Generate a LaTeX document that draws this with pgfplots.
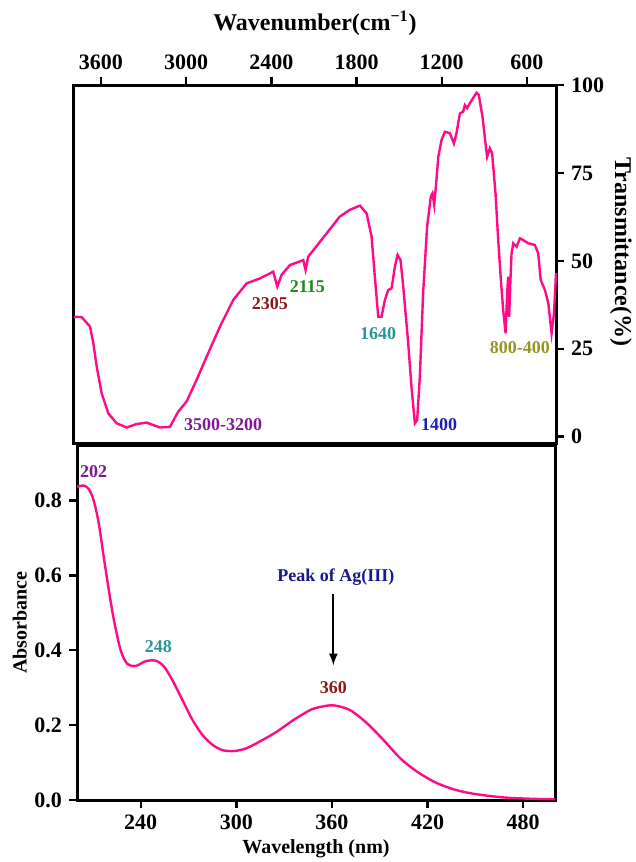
\documentclass[border=0pt]{standalone}
\usepackage{pgfplots}
\pgfplotsset{compat=1.18}
\usepackage{fontspec}
\setmainfont{Liberation Serif}
\definecolor{curve}{RGB}{255,10,135}
\definecolor{cpurple}{RGB}{125,25,145}
\definecolor{cdred}{RGB}{140,25,25}
\definecolor{cgreen}{RGB}{25,140,25}
\definecolor{cteal}{RGB}{40,150,150}
\definecolor{cblue}{RGB}{30,30,175}
\definecolor{colive}{RGB}{150,150,35}
\definecolor{cnavy}{RGB}{25,25,140}
\begin{document}
\begin{tikzpicture}
\useasboundingbox (0pt,0pt) rectangle (318pt,-431pt);
\pgfplotsset{
  every axis/.append style={
    scale only axis,
    axis line style={line width=1.5pt},
    tick style={line width=1.2pt, black},
    tick align=outside,
    major tick length=4pt,
    minor tick length=0pt,
    /pgf/number format/assume math mode=true,
    tick label style={font=\bfseries\fontsize{11}{13}\selectfont},
  }
}
% ---------- FTIR ----------
\begin{axis}[
  name=ftir,
  at={(157.5pt,-42.5pt)}, anchor=north,
  width=241pt, height=179pt,
  x dir=reverse,
  xmin=395, xmax=3790,
  ymin=-1.8, ymax=100,
  xtick={600,1200,1800,2400,3000,3600},
  xtick pos=upper, xticklabel pos=upper,
  ytick={0,25,50,75,100},
  ytick pos=right, yticklabel pos=right,
  /pgf/number format/1000 sep={},
  xlabel={Wavenumber(cm\textsuperscript{−1})},
  xlabel style={font=\bfseries\fontsize{12}{14}\selectfont, yshift=3pt},
  clip=false,
]
\addplot[curve, line width=1.2pt] coordinates {
(3790,34.1)(3736,34.0)(3677,31.3)(3654,26.6)(3630,19.9)(3595,12.3)(3548,6.6)(3489,3.8)
(3419,2.6)(3349,3.6)(3278,4.0)(3185,2.6)(3114,2.8)(3056,7.1)(2997,10.0)(2927,16.1)
(2856,22.7)(2762,31.3)(2668,38.9)(2574,43.6)(2480,45.0)(2387,46.9)(2358,42.7)(2328,46.0)
(2269,48.8)(2175,50.2)(2159,47.4)(2140,51.2)(2011,57.8)(1917,62.6)(1847,64.5)(1776,65.7)
(1729,63.5)(1694,56.9)(1671,45.5)(1647,34.1)(1624,34.1)(1600,38.9)(1577,41.7)(1553,42.2)
(1530,48.3)(1511,51.7)(1490,50.2)(1471,42.7)(1436,26.6)(1413,14.2)(1389,3.8)(1373,4.7)
(1354,17.1)(1331,40.8)(1303,59.7)(1277,68.2)(1265,69.2)(1253,65.9)(1241,71.1)(1224,79.6)
(1201,84.4)(1178,86.7)(1143,86.3)(1114,83.4)(1096,86.3)(1072,91.9)(1049,92.4)(1037,94.3)
(1021,93.4)(1002,94.8)(955,97.8)(939,97.2)(913,91.0)(889,82.5)(880,79.6)(861,82.0)
(845,80.6)(821,69.2)(802,55.9)(785,45.5)(767,36.0)(750,29.4)(739,40.8)(732,45.5)
(725,34.1)(715,45.5)(708,52.1)(696,55.0)(673,54.0)(649,56.4)(626,55.9)(591,55.0)
(544,54.5)(520,52.1)(503,44.6)(473,41.7)(449,37.9)(426,29.4)(409,35.1)(395,46.5)
};
\begin{scope}[font=\bfseries\fontsize{9}{11}\selectfont]
\node[cpurple] at (axis cs:2739,3.5) {3500-3200};
\node[cdred] at (axis cs:2410,37.9) {2305};
\node[cgreen] at (axis cs:2147,42.8) {2115};
\node[cteal] at (axis cs:1647,29.4) {1640};
\node[cblue] at (axis cs:1218,3.3) {1400};
\node[colive] at (axis cs:649,25.4) {800-400};
\end{scope}
\end{axis}
\node[rotate=-90, font=\bfseries\fontsize{12}{14}\selectfont] at (310.5pt,-126pt) {Transmittance(\%)};
% ---------- UV-vis ----------
\begin{axis}[
  name=uv,
  at={(158pt,-222.5pt)}, anchor=north,
  width=239pt, height=177.5pt,
  xmin=200, xmax=500,
  ymin=0, ymax=0.9485,
  xtick={240,300,360,420,480},
  ytick={0,0.2,0.4,0.6,0.8},
  xtick pos=lower, ytick pos=left,
  yticklabel style={/pgf/number format/.cd, fixed, fixed zerofill, precision=1},
  xlabel={Wavelength (nm)},
  xlabel style={font=\bfseries\fontsize{10}{12}\selectfont, yshift=2pt},
  ylabel={Absorbance},
  ylabel shift=-3pt,
  ylabel style={font=\bfseries\fontsize{10}{12}\selectfont},
  clip=false,
]
\addplot[curve, line width=1.2pt, smooth] coordinates {
(200,0.837)(204.2,0.84)(207.4,0.831)(210.5,0.80)(213.7,0.738)(216.8,0.649)(220,0.56)
(223.2,0.48)(227.4,0.40)(231.5,0.364)(236.8,0.358)(243.2,0.371)(249.5,0.372)(254.7,0.356)
(259.9,0.32)(266.2,0.267)(272.6,0.213)(278.9,0.173)(285.2,0.147)(291.5,0.133)(298.9,0.131)
(306.2,0.138)(314.6,0.156)(325.2,0.182)(335.6,0.213)(346.2,0.24)(352,0.248)(360.9,0.253)
(371.4,0.24)(382,0.205)(392.4,0.16)(403,0.111)(413.5,0.0755)(424,0.049)(434.5,0.031)
(445,0.0196)(457.6,0.0115)(470.3,0.006)(487,0.003)(500,0.002)
};
\begin{scope}[font=\bfseries\fontsize{9}{11}\selectfont]
\node[cpurple] at (axis cs:210.5,0.878) {202};
\node[cteal] at (axis cs:251.1,0.409) {248};
\node[cdred] at (axis cs:360.9,0.30) {360};
\node[cnavy] at (axis cs:362.5,0.595) {Peak of Ag(III)};
\end{scope}
\draw[-latex, line width=1pt] (axis cs:360.9,0.551) -- (axis cs:360.9,0.36);
\end{axis}
\end{tikzpicture}
\end{document}
